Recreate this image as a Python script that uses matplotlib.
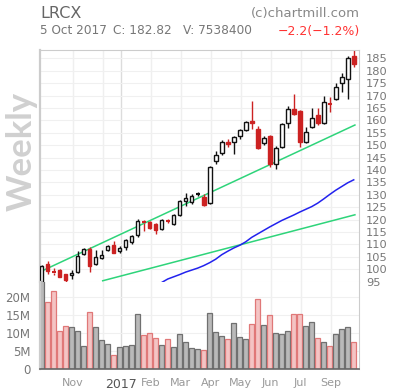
import numpy as np
import matplotlib
matplotlib.use("Agg")
import matplotlib.pyplot as plt
from matplotlib.patches import Rectangle

# weekly OHLC, LRCX, Oct 2016 - Oct 2017
opens = [95.0, 102.2, 98.9, 99.6, 98.0, 97.5, 98.7, 106.2, 108.2, 102.2,
         104.4, 107.6, 109.6, 107.2, 108.8, 111.0, 113.7, 119.0, 118.9, 118.2,
         116.2, 119.6, 118.1, 121.7, 127.5, 126.9, 130.2, 129.2, 126.5, 143.5,
         146.7, 151.4, 151.1, 153.7, 156.2, 159.6, 156.4, 151.0, 153.8, 142.3,
         149.4, 158.8, 164.4, 163.7, 151.4, 157.4, 162.3, 159.0, 166.9, 168.5,
         175.2, 176.8, 185.8]
highs = [101.8, 103.3, 100.6, 100.1, 98.2, 99.6, 107.4, 108.6, 109.0, 107.6,
         107.6, 109.6, 111.3, 109.3, 112.2, 113.6, 120.1, 119.8, 119.5, 118.5,
         120.4, 120.3, 122.2, 128.0, 130.6, 130.2, 131.0, 130.3, 141.4, 147.6,
         152.0, 152.6, 153.6, 156.6, 159.8, 167.8, 157.7, 153.8, 154.2, 149.6,
         158.8, 165.8, 170.6, 164.0, 157.4, 165.0, 165.0, 169.8, 169.5, 175.2,
         179.2, 185.9, 188.2]
lows = [94.8, 97.9, 97.6, 96.7, 94.8, 95.9, 98.3, 105.8, 98.7, 101.8,
        104.2, 107.2, 106.4, 106.4, 107.8, 110.0, 113.1, 115.5, 116.2, 114.3,
        115.8, 118.5, 117.7, 121.3, 125.4, 126.4, 129.4, 125.6, 126.2, 142.3,
        146.2, 149.1, 146.3, 152.3, 155.8, 156.4, 148.4, 150.0, 141.3, 140.2,
        149.0, 156.8, 162.0, 149.4, 150.7, 157.0, 158.2, 158.6, 163.5, 168.2,
        171.4, 168.5, 181.6]
closes = [101.3, 99.4, 98.6, 96.9, 95.6, 98.4, 105.4, 108.2, 101.4, 105.0,
          105.7, 109.3, 106.6, 108.4, 111.6, 113.2, 119.3, 118.6, 116.5, 115.9,
          120.0, 119.3, 121.7, 127.5, 128.5, 129.4, 130.5, 126.0, 141.0, 146.0,
          151.4, 150.4, 153.1, 156.0, 159.4, 158.8, 148.9, 152.7, 142.4, 149.0,
          158.4, 164.4, 162.4, 151.1, 155.2, 161.0, 158.8, 167.5, 166.6, 173.5,
          177.6, 185.0, 182.82]
volumes = [25.0, 18.6, 21.7, 10.6, 11.9, 11.7, 10.6, 6.4, 15.8, 11.7,
           8.1, 6.9, 3.9, 6.1, 6.4, 6.7, 15.3, 9.4, 10.0, 8.6,
           6.7, 8.3, 6.1, 9.7, 7.5, 5.8, 5.6, 5.3, 15.6, 10.3,
           9.2, 8.3, 12.8, 8.9, 8.3, 12.5, 19.4, 12.2, 15.0, 10.0,
           9.7, 10.6, 15.3, 15.3, 11.9, 13.1, 8.6, 7.5, 6.4, 9.7,
           11.1, 11.7, 7.5]  # millions

# moving average (visible part), week index 20..52
ma_start = 20
ma_vals = [94.6, 96.0, 96.9, 97.8, 98.8, 99.6, 100.4, 101.4, 102.6, 104.0,
           105.8, 107.2, 108.5, 109.6, 111.0, 112.8, 114.2, 115.6, 117.0, 118.3,
           119.6, 120.7, 121.8, 123.0, 124.1, 125.2, 126.6, 128.3, 130.1, 131.8,
           133.3, 134.8, 136.0]

# trend lines (week index, price)
trend1 = ([0.17, 52.2], [99.4, 158.1])
trend2 = ([10.17, 52.2], [95.3, 121.9])

xtick_pos = [5.17, 10.17, 13.17, 18.17, 23.17, 28.17, 33.17, 38.17, 43.17, 48.17]
xtick_lab = ['Nov', '', '2017', 'Feb', 'Mar', 'Apr', 'May', 'Jun', 'Jul', 'Sep']
price_ticks = list(range(95, 190, 5))
vol_ticks = [0, 5, 10, 15, 20]

plt.rcParams['font.family'] = ['DejaVu Sans']

W, H = 400, 390
fig = plt.figure(figsize=(W / 100, H / 100), dpi=100)

def box(l, t, r, b):
    return [l / W, 1 - b / H, (r - l) / W, (b - t) / H]

ax = fig.add_axes(box(40, 50, 359, 282))
axv = fig.add_axes(box(40, 282, 359, 369.3))

xlim = (-0.28, 52.88)
n = len(opens)
x = np.arange(n)
up = np.array(closes) >= np.array(opens)

# grid
for xi in xtick_pos:
    c = '#dcdcdc' if xi == 13.17 else '#efefef'
    ax.axvline(xi, color=c, lw=1, zorder=0)
    axv.axvline(xi, color=c, lw=1, zorder=0)
for p in price_ticks:
    ax.axhline(p, color='#f0f0f0', lw=0.8, zorder=0)
for v in vol_ticks[1:]:
    axv.axhline(v, color='#f0f0f0', lw=0.8, zorder=0)

# candles
bw = 0.6
for i in range(n):
    o, h, l, c = opens[i], highs[i], lows[i], closes[i]
    if up[i]:
        ec, fc = '#111111', 'white'
    else:
        ec, fc = '#cc2222', '#cc2222'
    lo, hi = min(o, c), max(o, c)
    ax.plot([i, i], [l, lo], color=ec, lw=1.0, zorder=2, solid_capstyle='butt')
    ax.plot([i, i], [hi, h], color=ec, lw=1.0, zorder=2, solid_capstyle='butt')
    if hi - lo < 0.6:
        ax.plot([i - bw / 2 - 0.05, i + bw / 2 + 0.05], [(o + c) / 2] * 2,
                color=ec, lw=1.5, zorder=3, solid_capstyle='butt')
    else:
        ax.add_patch(Rectangle((i - bw / 2, lo), bw, hi - lo, facecolor=fc,
                               edgecolor=ec, lw=1.0, zorder=3))

ax.plot(trend1[0], trend1[1], color='#2ed47a', lw=1.1, zorder=1)
ax.plot(trend2[0], trend2[1], color='#2ed47a', lw=1.1, zorder=1)
ax.plot(np.arange(ma_start, ma_start + len(ma_vals)), ma_vals,
        color='#2222ee', lw=1.1, zorder=1)

ax.set_xlim(*xlim)
ax.set_ylim(94.8, 188.35)
ax.set_xticks([])
ax.yaxis.tick_right()
ax.set_yticks(price_ticks)
ax.tick_params(axis='y', length=0, pad=5, labelsize=8.2, labelcolor='#777777')
for s in ['top', 'right', 'left']:
    ax.spines[s].set_color('#cccccc')
ax.spines['left'].set_linewidth(1.6)
ax.spines['bottom'].set_visible(False)

# volume panel
vcol = ['#b9b9b9' if u else '#f4c4c4' for u in up]
vedge = ['#707070' if u else '#e07878' for u in up]
axv.bar(x, volumes, width=0.75, color=vcol, edgecolor=vedge, lw=0.9, zorder=2)
axv.set_xlim(*xlim)
axv.set_ylim(0, 24.25)
axv.set_yticks(vol_ticks)
axv.set_yticklabels(['0'] + [f'{v}M' for v in vol_ticks[1:]])
axv.tick_params(axis='y', length=0, pad=7, labelsize=8.5, labelcolor='#777777')
axv.set_xticks(xtick_pos)
axv.set_xticklabels(xtick_lab)
axv.tick_params(axis='x', length=0, pad=6, labelsize=8, labelcolor='#999999')
for lab in axv.get_xticklabels():
    if lab.get_text() == '2017':
        lab.set_color('#555555')
        lab.set_fontsize(9)
axv.spines['top'].set_visible(False)
axv.spines['left'].set_color('#cccccc')
axv.spines['left'].set_linewidth(1.6)
axv.spines['right'].set_color('#cccccc')
axv.spines['bottom'].set_color('#666666')
axv.spines['bottom'].set_linewidth(1.2)

# watermark
fig.text(22 / W, 1 - 151 / H, 'Weekly', rotation=90, ha='center', va='center',
         fontsize=25, fontweight='bold', color='#d0d0d0', zorder=0,
         family=['Lato', 'DejaVu Sans'])

# header
fig.text(40 / W, 1 - 14 / H, 'LRCX', ha='left', va='center', fontsize=11.5,
         color='#666666')
fig.text(40 / W, 1 - 31 / H, '5 Oct 2017', ha='left', va='center', fontsize=8.7,
         color='#777777')
fig.text(113 / W, 1 - 31 / H, 'C: 182.82', ha='left', va='center', fontsize=8.7,
         color='#777777')
fig.text(183 / W, 1 - 31 / H, 'V: 7538400', ha='left', va='center', fontsize=8.7,
         color='#777777')
fig.text(360 / W, 1 - 14 / H, '(c)chartmill.com', ha='right', va='center',
         fontsize=9.5, color='#888888')
fig.text(360 / W, 1 - 31 / H, '\u22122.2(\u22121.2%)', ha='right', va='center',
         fontsize=9, color='#ff3333')

fig.savefig('out.png', dpi=100)
